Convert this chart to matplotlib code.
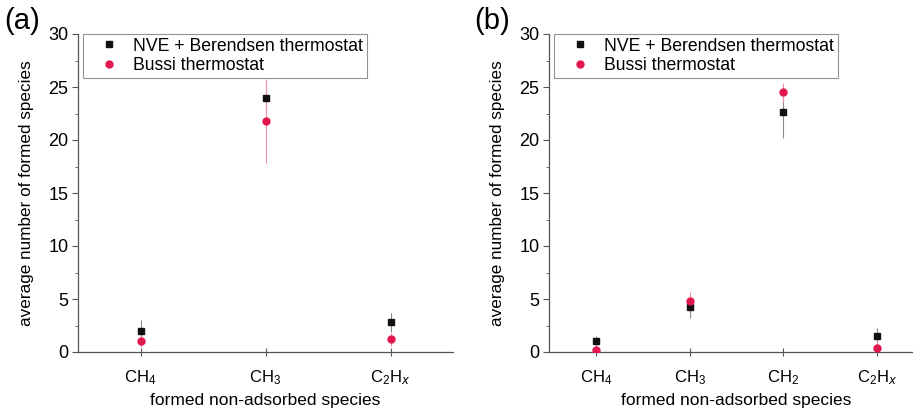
import numpy as np
import matplotlib
matplotlib.use('Agg')
import matplotlib.pyplot as plt

plt.rcParams['font.family'] = ['Liberation Sans', 'DejaVu Sans']
plt.rcParams['mathtext.default'] = 'regular'

black = '#111111'
red = '#e2174f'
red_err = '#ef8fa8'
grey_err = '#8a8a8a'

# panel (a)
species_a = ['CH$_4$', 'CH$_3$', 'C$_2$H$_\\mathit{x}$']
nve_a = [2.0, 24.0, 2.8]
nve_err_a = [1.0, 1.3, 0.9]
bussi_a = [1.0, 21.8, 1.2]
bussi_err_a = [0.5, 4.0, 0.6]

# panel (b)
species_b = ['CH$_4$', 'CH$_3$', 'CH$_2$', 'C$_2$H$_\\mathit{x}$']
nve_b = [1.0, 4.2, 22.6, 1.5]
nve_err_b = [0.5, 1.0, 2.4, 0.8]
bussi_b = [0.2, 4.8, 24.5, 0.4]
bussi_err_b = [0.4, 0.9, 0.9, 0.6]

W, H = 913, 409
fig = plt.figure(figsize=(W/100, H/100), dpi=100)

def panel(left_px, species, nve, nve_err, bussi, bussi_err, tag, tag_x):
    ax = fig.add_axes([left_px/W, 1-352/H, 375/W, 318/H])
    x = np.arange(1, len(species)+1)
    ax.errorbar(x, nve, yerr=nve_err, fmt='none', ecolor=grey_err,
                elinewidth=0.8, capsize=0, zorder=2)
    ax.errorbar(x, bussi, yerr=bussi_err, fmt='none', ecolor=red_err,
                elinewidth=0.8, capsize=0, zorder=2)
    ax.plot(x, nve, 's', ms=5, color=black,
            label='NVE + Berendsen thermostat', zorder=3)
    ax.plot(x, bussi, 'o', ms=5, color=red,
            label='Bussi thermostat', zorder=4)
    ax.set_xlim(0.5, len(species)+0.5)
    ax.set_ylim(0, 30)
    ax.set_xticks(x)
    ax.set_xticklabels(species, fontsize=12)
    ax.set_yticks([0, 5, 10, 15, 20, 25, 30])
    ax.set_yticks(np.arange(2.5, 30, 5), minor=True)
    ax.tick_params(axis='y', labelsize=13, direction='out', length=4,
                   color='#555555', width=0.8, pad=3)
    ax.tick_params(axis='y', which='minor', length=2.5, color='#555555')
    ax.tick_params(axis='x', direction='inout', length=6, color='#555555',
                   width=0.8, pad=9)
    for s in ['top', 'right']:
        ax.spines[s].set_visible(False)
    for s in ['left', 'bottom']:
        ax.spines[s].set_color('#555555')
        ax.spines[s].set_linewidth(0.9)
    ax.set_ylabel('average number of formed species', fontsize=12.3, labelpad=10)
    ax.set_xlabel('formed non-adsorbed species', fontsize=12.5, labelpad=4)
    leg = ax.legend(loc='upper left', bbox_to_anchor=(0.013, 1.0), fontsize=12.7,
                    frameon=True, fancybox=False, edgecolor='#777777',
                    handlelength=2.6, handletextpad=0.05, borderpad=0.2,
                    labelspacing=0.15, borderaxespad=0)
    leg.get_frame().set_linewidth(0.8)
    fig.text(tag_x/W, 1-21/H, tag, fontsize=21, va='center', ha='left')
    return ax

panel(78, species_a, nve_a, nve_err_a, bussi_a, bussi_err_a, '(a)', 4)
panel(549, species_b, nve_b, nve_err_b, bussi_b, bussi_err_b, '(b)', 474)

fig.savefig('out.png', dpi=100)
